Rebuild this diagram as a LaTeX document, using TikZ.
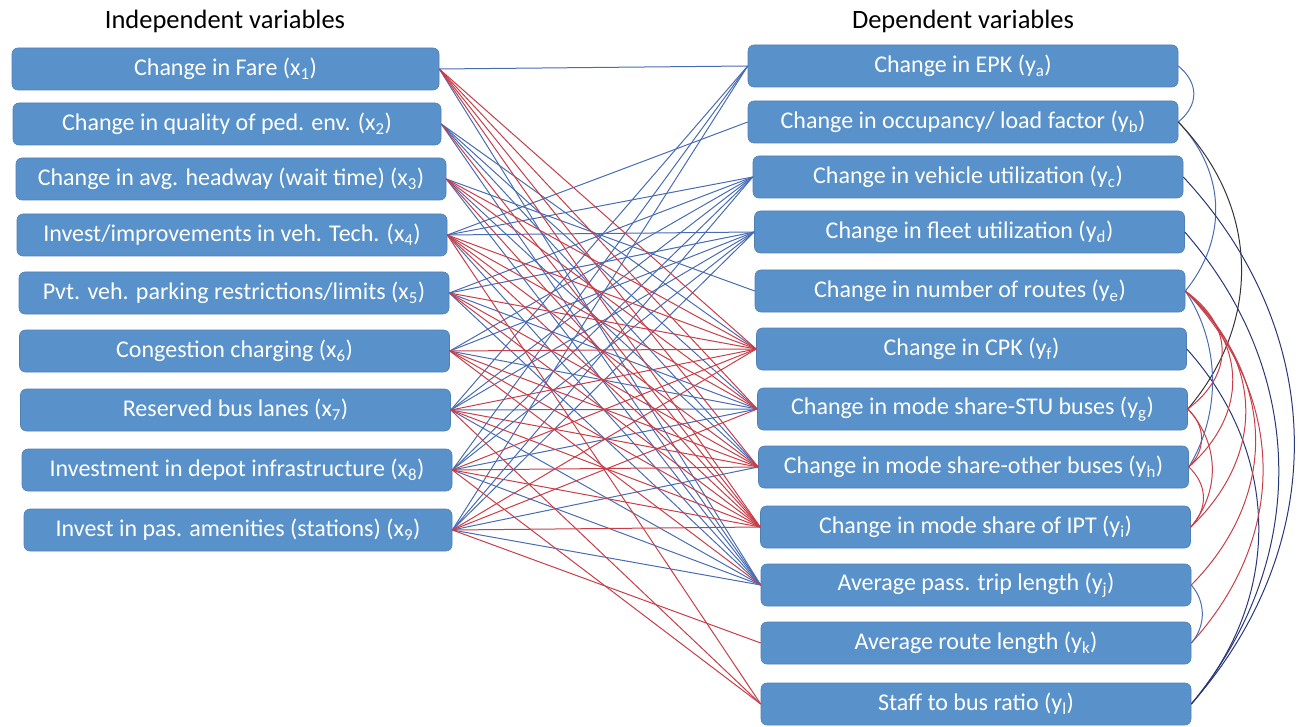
\documentclass[tikz,border=0pt]{standalone}
\usepackage{fontspec}
\setmainfont{Carlito}
\definecolor{boxfill}{RGB}{89,146,202}
\definecolor{boxline}{RGB}{78,128,182}
\definecolor{lnblue}{RGB}{72,108,180}
\definecolor{lnred}{RGB}{200,62,72}
\definecolor{lnnavy}{RGB}{40,55,120}
\definecolor{lnblack}{RGB}{50,50,55}
\begin{document}
\begin{tikzpicture}[x=1pt,y=-1pt,
  varbox/.style={rectangle, rounded corners=6pt, fill=boxfill, draw=boxline, line width=0.6pt,
    text=white, minimum width=430pt, minimum height=42pt, inner sep=0pt,
    font=\fontsize{24}{28}\selectfont},
  hdr/.style={font=\fontsize{26.5}{30}\selectfont, text=black},
  bl/.style={draw=lnblue, line width=1pt},
  rd/.style={draw=lnred, line width=1pt},
  nv/.style={draw=lnnavy, line width=1pt},
  bk/.style={draw=lnblack, line width=1pt}]
\useasboundingbox (0,0) rectangle (1298,727);

\node[hdr] (hl) at (225,21) {Independent variables};
\node[hdr] (hr) at (963,21) {Dependent variables};

% left boxes
\node[varbox, minimum width=427pt] (x1) at (225.5,69) {Change in Fare (x\textsubscript{1})};
\node[varbox, minimum width=428pt] (x2) at (227,124) {Change in quality of ped. env. (x\textsubscript{2})};
\node[varbox] (x3) at (231,179) {Change in avg. headway (wait time) (x\textsubscript{3})};
\node[varbox] (x4) at (232,235) {Invest/improvements in veh. Tech. (x\textsubscript{4})};
\node[varbox] (x5) at (234,293) {Pvt. veh. parking restrictions/limits (x\textsubscript{5})};
\node[varbox] (x6) at (234.5,351) {Congestion charging (x\textsubscript{6})};
\node[varbox] (x7) at (235.5,410) {Reserved bus lanes (x\textsubscript{7})};
\node[varbox] (x8) at (237,470) {Investment in depot infrastructure (x\textsubscript{8})};
\node[varbox, minimum width=428pt] (x9) at (238,530) {Invest in pas. amenities (stations) (x\textsubscript{9})};

% right boxes
\node[varbox] (ya) at (963,66) {Change in EPK (y\textsubscript{a})};
\node[varbox] (yb) at (963,122) {Change in occupancy/ load factor (y\textsubscript{b})};
\node[varbox] (yc) at (968,177) {Change in vehicle utilization (y\textsubscript{c})};
\node[varbox] (yd) at (969.5,232) {Change in fleet utilization (y\textsubscript{d})};
\node[varbox] (ye) at (970,291) {Change in number of routes (y\textsubscript{e})};
\node[varbox] (yf) at (971.5,349) {Change in CPK (y\textsubscript{f})};
\node[varbox] (yg) at (972.5,409) {Change in mode share-STU buses (y\textsubscript{g})};
\node[varbox] (yh) at (973.5,467) {Change in mode share-other buses (y\textsubscript{h})};
\node[varbox] (yi) at (975.5,527) {Change in mode share of IPT (y\textsubscript{i})};
\node[varbox] (yj) at (976,585) {Average pass. trip length (y\textsubscript{j})};
\node[varbox] (yk) at (976,643) {Average route length (y\textsubscript{k})};
\node[varbox] (yl) at (976,704) {Staff to bus ratio (y\textsubscript{l})};

% independent -> dependent connectors
\foreach \a/\b in {x1/ya, x1/yj,
  x2/yf, x2/yg, x2/yh, x2/yj,
  x3/ye, x3/yh, x3/yj,
  x4/yb, x4/yc, x4/yd, x4/yj,
  x5/yc, x5/yd, x5/yg, x5/yj,
  x6/yc, x6/yd, x6/yg,
  x7/ya, x7/yc, x7/yd, x7/yg, x7/yj,
  x8/ya, x8/yc, x8/yd, x8/yg, x8/yj,
  x9/ya, x9/yc, x9/yd, x9/yh, x9/yj}
  \draw[bl] (\a.east) -- (\b.west);
\foreach \a/\b in {x1/yf, x1/yg, x1/yh, x1/yi,
  x2/yi,
  x3/yf, x3/yg, x3/yi,
  x4/yf, x4/yg, x4/yh, x4/yi, x4/yl,
  x5/yf, x5/yh, x5/yi,
  x6/yf, x6/yh, x6/yi, x6/yj,
  x7/yf, x7/yh, x7/yi, x7/yl,
  x8/yf, x8/yh, x8/yi, x8/yl,
  x9/yf, x9/yg, x9/yi, x9/yk}
  \draw[rd] (\a.east) -- (\b.west);

% dependent <-> dependent curves
\draw[bl] (ya.east) .. controls (1199,83) and (1199,105) .. (yb.east);
\draw[bl] (yb.east) .. controls (1227,173) and (1227,240) .. (ye.east);
\draw[bk] (yb.east) .. controls (1261,208) and (1261,323) .. (yg.east);
\draw[nv] (yc.east) .. controls (1330,335) and (1330,546) .. (yl.east);
\draw[nv] (yd.east) .. controls (1309,374) and (1309,562) .. (yl.east);
\draw[nv] (yf.east) .. controls (1282,455) and (1282,598) .. (yl.east);
\draw[bl] (ye.east) .. controls (1221,344) and (1221,414) .. (yh.east);
\draw[rd] (ye.east) .. controls (1234,326) and (1234,374) .. (yg.east);
\draw[rd] (ye.east) .. controls (1248,344) and (1248,414) .. (yh.east);
\draw[rd] (ye.east) .. controls (1265,362) and (1265,456) .. (yi.east);
\draw[rd] (ye.east) .. controls (1278,379) and (1278,497) .. (yj.east);
\draw[rd] (ye.east) .. controls (1288,397) and (1288,537) .. (yk.east);
\draw[rd] (yg.east) .. controls (1206,426) and (1206,450) .. (yh.east);
\draw[rd] (yg.east) .. controls (1220,444) and (1220,492) .. (yi.east);
\draw[rd] (yh.east) .. controls (1208,485) and (1208,509) .. (yi.east);
\draw[bl] (yj.east) .. controls (1206,602) and (1206,626) .. (yk.east);
\end{tikzpicture}
\end{document}
